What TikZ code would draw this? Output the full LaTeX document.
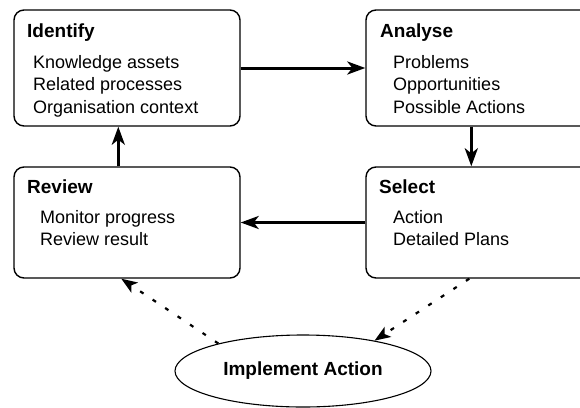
\documentclass[tikz,border=0pt]{standalone}
\usepackage{fontspec}
\setmainfont{Liberation Sans}
\usetikzlibrary{arrows.meta,shapes.geometric,calc}
\begin{document}
\begin{tikzpicture}[x=1pt,y=-1pt,
 box/.style={draw, line width=1.4pt, rounded corners=10pt, inner sep=0pt},
 ttl/.style={anchor=base west, inner sep=0pt, font=\fontsize{19}{23}\selectfont\bfseries},
 txt/.style={anchor=base west, inner sep=0pt, font=\fontsize{18}{23}\selectfont},
 flow/.style={line width=3pt, -{Stealth[length=18pt,width=13pt,inset=5pt]}},
 dots/.style={line width=2.2pt, dash pattern=on 4pt off 11pt, -{Stealth[length=16pt,width=12pt,inset=4pt]}},
]
\useasboundingbox (0,0) rectangle (580,407);
\clip (0,0) rectangle (580,407);
% boxes
\node[box, minimum width=226pt, minimum height=116pt] (id) at (127,68) {};
\node[box, minimum width=229pt, minimum height=116pt] (an) at (480.5,68) {};
\node[box, minimum width=226pt, minimum height=111pt] (rv) at (127,222.5) {};
\node[box, minimum width=229pt, minimum height=111pt] (se) at (480.5,222.5) {};
\node[draw, ellipse, line width=1.1pt, minimum width=256pt, minimum height=72pt, inner sep=0pt,
      font=\fontsize{19}{23}\selectfont\bfseries] (ie) at (303,371) {Implement Action};
% texts
\node[ttl] (idh) at (27,37) {Identify};
\node[txt] (id1) at (33,68) {Knowledge assets};
\node[txt] (id2) at (33,90.5) {Related processes};
\node[txt] (id3) at (33,113) {Organisation context};
\node[ttl] (anh) at (380,37) {Analyse};
\node[txt] (an1) at (393,68) {Problems};
\node[txt] (an2) at (393,90.5) {Opportunities};
\node[txt] (an3) at (393,113) {Possible Actions};
\node[ttl] (rvh) at (27,193) {Review};
\node[txt] (rv1) at (40,223) {Monitor progress};
\node[txt] (rv2) at (40,245.5) {Review result};
\node[ttl] (seh) at (379,193) {Select};
\node[txt] (se1) at (393,223) {Action};
\node[txt] (se2) at (393,245.5) {Detailed Plans};
% connector anchors
\coordinate (ans) at ($(an.south west)+(106,0)$);
\coordinate (rvn) at ($(rv.north west)+(105,0)$);
\coordinate (rvs) at ($(rv.south west)+(108,0)$);
\coordinate (ses) at ($(se.south west)+(104,0)$);
% connectors
\draw[flow] (id.east) -- (an.west);
\draw[flow] (ans) -- (ans |- se.north);
\draw[flow] (se.west) -- (rv.east);
\draw[flow] (rvn) -- (rvn |- id.south);
\draw[dots] (ie.162) -- (rvs);
\draw[dots] (ses) -- (ie.23);
\end{tikzpicture}
\end{document}
